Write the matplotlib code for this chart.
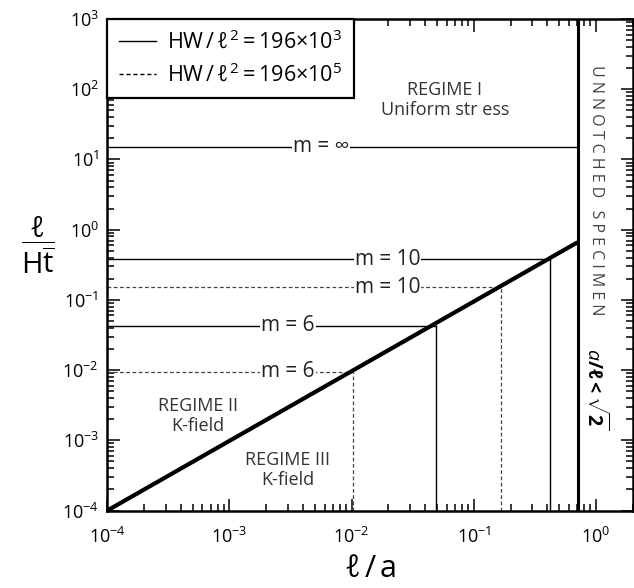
import matplotlib
matplotlib.use("Agg")
import matplotlib.pyplot as plt
from matplotlib.lines import Line2D
import numpy as np

plt.rcParams['font.family'] = ['Open Sans', 'DejaVu Sans']
plt.rcParams['mathtext.fontset'] = 'custom'
plt.rcParams['mathtext.rm'] = 'Open Sans'
plt.rcParams['mathtext.it'] = 'Open Sans:italic'
plt.rcParams['mathtext.bf'] = 'Open Sans:bold'

# ---- data ----
x_limits = [1e-4, 2.0]
y_limits = [1e-4, 1e3]
boundary_x = 0.707          # a/l = sqrt(2) boundary
diag_x = [1e-4, 0.707]
diag_y = [1e-4, 0.66]

# solid series: HW/l^2 = 196e3
solid_labels = ['m = ∞', 'm = 10', 'm = 6']
solid_y = [15.2, 0.38, 0.043]
solid_x_end = [0.707, 0.417, 0.0487]
solid_label_x = [0.0056, 0.0197, 0.0030]

# dashed series: HW/l^2 = 196e5
dashed_labels = ['m = 10', 'm = 6']
dashed_y = [0.151, 0.0094]
dashed_x_end = [0.166, 0.0103]
dashed_label_x = [0.0197, 0.0030]

legend_labels = [r'HW$\,/\,\ell^2=$196$\times$10$^3$',
                 r'HW$\,/\,\ell^2=$196$\times$10$^5$']

fig = plt.figure(figsize=(6.34, 5.88), dpi=100)
ax = fig.add_axes([0.1693, 0.1318, 0.8287, 0.8359])
ax.set_xscale('log')
ax.set_yscale('log')
ax.set_xlim(*x_limits)
ax.set_ylim(*y_limits)

# step lines, solid
for lab, y, xe, lx in zip(solid_labels, solid_y, solid_x_end, solid_label_x):
    ax.plot([x_limits[0], xe], [y, y], color='black', lw=1.0, zorder=2)
    if xe < boundary_x:
        ax.plot([xe, xe], [y_limits[0], y], color='black', lw=1.0, zorder=2)
    ax.text(lx, y, lab, ha='center', va='center', fontsize=15, color='#222222',
            bbox=dict(facecolor='white', edgecolor='none', pad=0.8), zorder=4)

# step lines, dashed
for lab, y, xe, lx in zip(dashed_labels, dashed_y, dashed_x_end, dashed_label_x):
    ax.plot([x_limits[0], xe], [y, y], color='#444444', lw=0.9, ls=(0, (3, 2)), zorder=2)
    ax.plot([xe, xe], [y_limits[0], y], color='#444444', lw=0.9, ls=(0, (3, 2)), zorder=2)
    ax.text(lx, y, lab, ha='center', va='center', fontsize=15, color='#222222',
            bbox=dict(facecolor='white', edgecolor='none', pad=0.8), zorder=4)

# diagonal and boundary
ax.plot(diag_x, diag_y, color='black', lw=3.0, zorder=5, solid_capstyle='butt')
ax.axvline(boundary_x, color='black', lw=2.2, zorder=5)

# region texts
ax.text(0.058, 70, 'REGIME I\nUniform str ess', ha='center', va='center',
        fontsize=13, color='#333333', linespacing=1.15)
ax.text(0.00055, 0.0022, 'REGIME II\nK-field', ha='center', va='center',
        fontsize=13, color='#333333', linespacing=1.15)
ax.text(0.0030, 0.00038, 'REGIME III\nK-field', ha='center', va='center',
        fontsize=13, color='#333333', linespacing=1.15)
ax.text(1.0, 3.7, 'U N N O T C H E D   S P E C I M E N', rotation=-90,
        ha='center', va='center', fontsize=11.5, color='#444444')
ax.text(1.0, 0.0055, r'$\mathbf{\mathit{a}/\ell<\sqrt{2}}$', rotation=-90,
        ha='center', va='center', fontsize=14, color='black')

# axes styling
for s in ax.spines.values():
    s.set_linewidth(1.8)
ax.tick_params(which='both', direction='in', top=True, right=True,
               labelsize=13, width=1.1)
ax.tick_params(which='major', length=9)
ax.tick_params(which='minor', length=5)
ax.tick_params(axis='x', pad=12)
ax.tick_params(axis='y', pad=6)
ax.set_xticks([1e-4, 1e-3, 1e-2, 1e-1, 1e0])
ax.set_yticks([1e-4, 1e-3, 1e-2, 1e-1, 1e0, 1e1, 1e2, 1e3])

ax.set_xlabel(r'$\ell\,/\,$a', fontsize=22, labelpad=5)
fig.text(0.060, 0.583, r'$\dfrac{\ell}{\mathrm{H}\overline{\mathrm{t}}}$',
         ha='center', va='center', fontsize=21)

handles = [Line2D([], [], color='black', lw=1.0),
           Line2D([], [], color='black', lw=1.0, ls=(0, (3, 2)))]
leg = ax.legend(handles, legend_labels, loc='upper left', bbox_to_anchor=(0, 1),
                borderaxespad=0, fontsize=15.5, handlelength=1.7, handletextpad=0.5,
                frameon=True, fancybox=False, framealpha=1, edgecolor='black',
                borderpad=0.55, labelspacing=0.45)
leg.get_frame().set_linewidth(1.6)
leg.set_zorder(6)

fig.savefig('out.png', dpi=100)
